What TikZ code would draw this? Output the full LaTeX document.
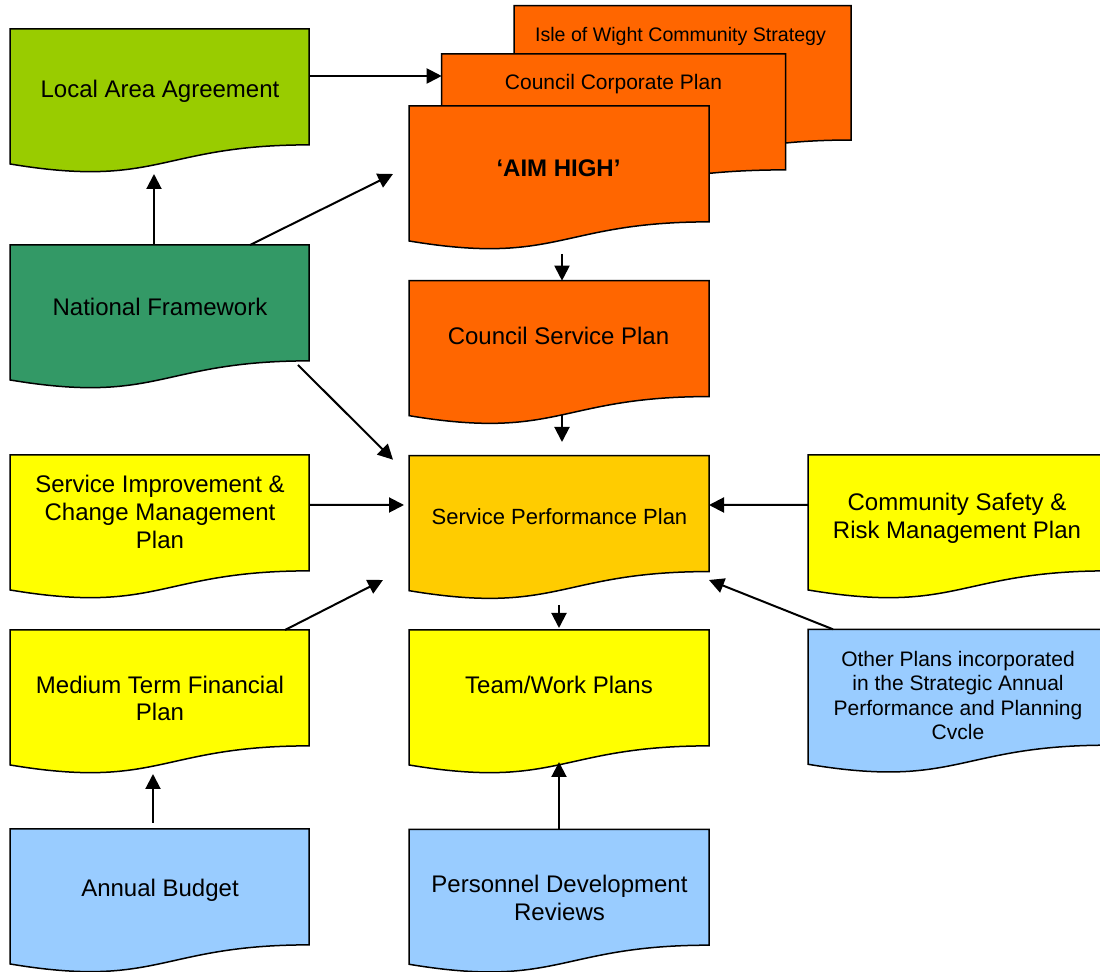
\documentclass[tikz,border=0pt]{standalone}
\usepackage{fontspec}
\setmainfont{Liberation Sans}
\usetikzlibrary{arrows.meta,calc,fit}
\definecolor{lagreen}{HTML}{99CC00}
\definecolor{nfgreen}{HTML}{339966}
\definecolor{orng}{HTML}{FF6600}
\definecolor{gold}{HTML}{FFCC00}
\definecolor{yel}{HTML}{FFFF00}
\definecolor{lblue}{HTML}{99CCFF}
% #1 name, #2 x1, #3 y1, #4 width, #5 height, #6 fill
\newcommand\docbox[6]{%
  \filldraw[docline, fill=#6] (#2,#3) -- ({#2+#4},#3) -- ({#2+#4},{#3+0.802*#5})
    .. controls ({#2+0.5*#4},{#3+0.802*#5}) and ({#2+0.5*#4},{#3+1.1075*#5}) ..
    (#2,{#3+0.934*#5}) -- cycle;
  \node[fit={(#2,#3) ({#2+#4},{#3+#5})}, inner sep=0pt, outer sep=0pt] (#1) {};}
\tikzset{
  docline/.style={draw=black, line width=0.75pt, line join=miter},
  arr/.style={draw=black, line width=1pt, -{Triangle[length=7.5pt,width=7.5pt]}},
  txt/.style={inner sep=0pt, align=center, font=\fontsize{12}{13.8}\selectfont},
  smalltxt/.style={inner sep=0pt, align=center, font=\fontsize{10}{11.5}\selectfont},
}
\begin{document}
\begin{tikzpicture}[x=0.5pt,y=-0.5pt]
\useasboundingbox (0,0) rectangle (1100,972);
\clip (0,0) rectangle (1100,972);
% boxes
\docbox{laa}{10}{29}{299}{144.5}{lagreen}
\docbox{nf}{10}{245}{299}{144.5}{nfgreen}
\docbox{sic}{10}{455}{299}{144.5}{yel}
\docbox{mtfp}{10}{630}{299}{144.5}{yel}
\docbox{ab}{10}{829}{299}{144.5}{lblue}
\docbox{isle}{514}{5.7}{337}{167.5}{orng}
\docbox{ccp}{441.7}{54}{344}{144.5}{orng}
\docbox{aim}{409}{106}{300}{144.5}{orng}
\docbox{csp}{409}{280.7}{300}{144.5}{orng}
\docbox{spp}{409}{455.7}{300}{144.5}{gold}
\docbox{team}{409}{630}{300}{144.5}{yel}
\docbox{pdr}{409}{829.3}{300}{144.5}{lblue}
\docbox{cs}{808}{455}{300}{144.5}{yel}
\docbox{op}{808}{629.3}{300}{144.5}{lblue}
% texts
\node[txt] (laat) at (160,91) {Local Area Agreement};
\node[txt] (nft) at (160,307) {National Framework};
\node[txt] (sict) at (160,512) {Service Improvement \&\\Change Management\\Plan};
\node[txt] (mtfpt) at (160,698.5) {Medium Term Financial\\Plan};
\node[txt] (abt) at (160,890) {Annual Budget};
\node[smalltxt, font=\fontsize{9.8}{11.5}\selectfont] (islet) at (680.5,36) {Isle of Wight Community Strategy};
\node[smalltxt, font=\fontsize{10.5}{12}\selectfont] (ccpt) at (613.5,84) {Council Corporate Plan};
\node[txt] (aimt) at (558.5,168) {\bfseries ‘AIM HIGH’};
\node[txt] (cspt) at (558.5,336) {Council Service Plan};
\node[txt, font=\fontsize{11}{12.6}\selectfont] (sppt) at (559.5,517) {Service Performance Plan};
\node[txt] (teamt) at (559,685) {Team/Work Plans};
\node[txt] (pdrt) at (559.5,898) {Personnel Development\\Reviews};
\node[txt] (cst) at (957,518.5) {Community Safety \&\\Risk Management Plan};
\node[txt, font=\fontsize{10.5}{12.15}\selectfont] (opt) at (958,695.5) {Other Plans incorporated\\in the Strategic Annual\\Performance and Planning\\Cvcle};
% connectors
\draw[arr] ($(laa.north east)+(0,47)$) -- ($(ccp.north west)+(0,22)$);
\draw[arr] ($(nf.north west)+(144,0)$) -- ($(laa.north west)+(144,145)$);
\draw[arr] ($(nf.north west)+(240,0)$) -- ($(aim.north west)+(-16,68)$);
\draw[arr] ($(nf.north west)+(288,120)$) -- ($(spp.north west)+(-16,4)$);
\draw[arr] ($(sic.north east)+(0,50)$) -- ($(spp.north west)+(-5,49.3)$);
\draw[arr] ($(mtfp.north west)+(275,0)$) -- ($(spp.north west)+(-26,124.3)$);
\draw[arr] ($(cs.north west)+(0,50)$) -- ($(spp.north east)+(0,49.3)$);
\draw[arr] ($(op.north west)+(25,0)$) -- ($(spp.north east)+(0,124.3)$);
\draw[arr] ($(aim.north west)+(153,148)$) -- ($(csp.north west)+(153,0)$);
\draw[arr] ($(csp.north west)+(153,134.3)$) -- ($(spp.north west)+(153,-13.7)$);
\draw[arr] ($(spp.north west)+(150,149.3)$) -- ($(team.north west)+(150,-2)$);
\draw[arr] ($(pdr.north west)+(150,0)$) -- ($(team.north west)+(150,132)$);
\draw[arr] ($(ab.north west)+(143,-6)$) -- ($(mtfp.north west)+(143,144)$);
\end{tikzpicture}
\end{document}
